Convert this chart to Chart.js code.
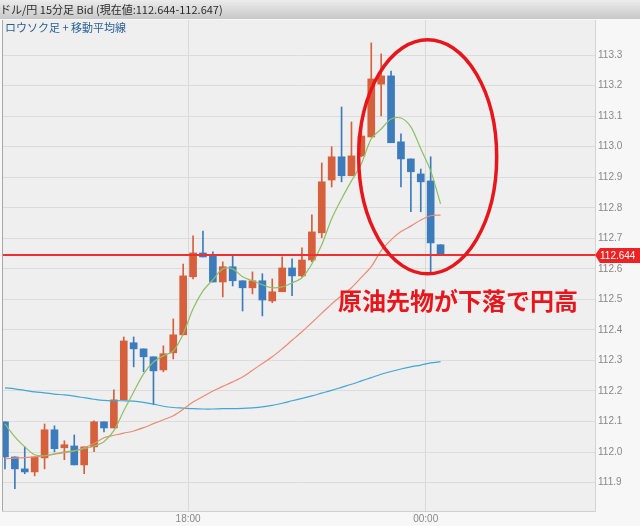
<!DOCTYPE html>
<html>
<head>
<meta charset="utf-8">
<script src="https://cdn.jsdelivr.net/npm/chart.js@4"></script>
<style>
html, body { margin: 0; padding: 0; background: #f6f6f6; }
#wrap { position: relative; width: 640px; height: 526px; }
</style>
</head>
<body>
<div id="wrap"><canvas id="myChart" width="640" height="526"></canvas></div>
<script>
// 15-minute candles, index 0..44
const openP = [112.099, 111.984, 111.945, 111.935, 111.981, 112.073, 112.014, 112.020, 111.958, 112.017,
  112.099, 112.079, 112.171, 112.358, 112.338, 112.312, 112.269, 112.325, 112.384, 112.574,
  112.652, 112.643, 112.557, 112.607, 112.561, 112.538, 112.561, 112.495, 112.525, 112.603,
  112.577, 112.629, 112.718, 112.891, 112.967, 112.905, 112.970, 113.032, 113.205, 113.232,
  113.016, 112.960, 112.911, 112.888, 112.679];
const closeP = [111.984, 111.945, 111.935, 111.984, 112.073, 112.011, 112.024, 111.958, 112.017, 112.099,
  112.079, 112.171, 112.364, 112.338, 112.312, 112.266, 112.322, 112.384, 112.577, 112.652,
  112.639, 112.557, 112.607, 112.561, 112.538, 112.561, 112.498, 112.525, 112.603, 112.577,
  112.629, 112.721, 112.885, 112.967, 112.905, 112.970, 113.035, 113.222, 113.232, 113.013,
  112.960, 112.918, 112.885, 112.685, 112.644];
const highP = [112.099, 111.984, 112.017, 111.984, 112.092, 112.086, 112.037, 112.056, 112.017, 112.102,
  112.099, 112.204, 112.377, 112.377, 112.338, 112.312, 112.348, 112.436, 112.616, 112.708,
  112.724, 112.656, 112.623, 112.646, 112.561, 112.590, 112.584, 112.567, 112.639, 112.633,
  112.669, 112.777, 112.947, 113.000, 113.130, 113.081, 113.068, 113.340, 113.304, 113.248,
  113.042, 112.960, 112.927, 112.967, 112.679];
const lowP = [111.945, 111.880, 111.929, 111.922, 111.945, 112.001, 111.975, 111.958, 111.929, 112.001,
  112.066, 112.079, 112.171, 112.279, 112.263, 112.155, 112.263, 112.305, 112.384, 112.567,
  112.639, 112.557, 112.508, 112.544, 112.462, 112.518, 112.446, 112.489, 112.525, 112.512,
  112.574, 112.623, 112.702, 112.868, 112.885, 112.905, 112.967, 113.032, 113.101, 113.013,
  112.868, 112.787, 112.787, 112.584, 112.644];

// moving averages
const maShort = [112.092, 112.050, 112.017, 111.991, 111.988, 111.994, 112.001, 112.004, 112.011, 112.020,
  112.034, 112.070, 112.135, 112.197, 112.256, 112.295, 112.315, 112.331, 112.387, 112.469,
  112.528, 112.564, 112.600, 112.600, 112.574, 112.561, 112.548, 112.538, 112.541, 112.554,
  112.571, 112.616, 112.679, 112.764, 112.829, 112.888, 112.944, 113.026, 113.058, 113.091,
  113.094, 113.065, 112.993, 112.921, 112.813];
const maMid = [111.978, 111.980, 111.982, 111.984, 111.988, 111.993, 111.998, 112.004, 112.014, 112.028,
  112.047, 112.055, 112.062, 112.069, 112.080, 112.093, 112.106, 112.119, 112.140, 112.164,
  112.182, 112.200, 112.215, 112.230, 112.246, 112.268, 112.290, 112.312, 112.338, 112.366,
  112.394, 112.424, 112.455, 112.485, 112.512, 112.538, 112.572, 112.607, 112.660, 112.695,
  112.722, 112.740, 112.760, 112.774, 112.776];
const maLong = [112.210, 112.207, 112.202, 112.197, 112.194, 112.190, 112.187, 112.183, 112.178, 112.173,
  112.169, 112.168, 112.168, 112.167, 112.163, 112.157, 112.150, 112.146, 112.144, 112.142,
  112.141, 112.141, 112.142, 112.142, 112.143, 112.145, 112.148, 112.153, 112.160, 112.168,
  112.176, 112.184, 112.193, 112.202, 112.212, 112.222, 112.233, 112.244, 112.255, 112.264,
  112.272, 112.279, 112.285, 112.292, 112.296];

const yTicks = [111.9, 112.0, 112.1, 112.2, 112.3, 112.4, 112.5, 112.6, 112.7, 112.8, 112.9, 113.0, 113.1, 113.2, 113.3];
const timeTicks = [18.5, 42.5];
const timeLabels = ["18:00", "00:00"];
const lastPrice = 112.644;
const xMin = -0.3, xMax = 59.6;

const upColor = "#d6603c";
const downColor = "#3c7cbc";

const candleColors = openP.map((o, i) => closeP[i] >= o ? upColor : downColor);
const bodies = openP.map((o, i) => ({ x: i, y: [o, closeP[i]] }));
const wicks = lowP.map((l, i) => ({ x: i, y: [l, highP[i]] }));
const toPts = arr => arr.map((v, i) => ({ x: i, y: v }));

const decor = {
  id: "decor",
  beforeDraw(chart) {
    const ctx = chart.ctx, a = chart.chartArea;
    ctx.save();
    ctx.fillStyle = "#f7f7f7";
    ctx.fillRect(0, 0, chart.width, chart.height);
    ctx.fillStyle = "#efefef";
    ctx.fillRect(a.left, a.top, a.right - a.left, a.bottom - a.top);
    // header band
    const g = ctx.createLinearGradient(0, 0, 0, 19);
    g.addColorStop(0, "#ececec");
    g.addColorStop(1, "#c8c8c8");
    ctx.fillStyle = g;
    ctx.fillRect(0, 0, chart.width, 19);
    ctx.fillStyle = "#2b2b2b";
    ctx.font = "11px 'Noto Sans CJK JP'";
    ctx.textBaseline = "middle";
    ctx.fillText("ドル/円 15分足 Bid (現在値:112.644-112.647)", 0, 10);
    ctx.restore();
  },
  afterDatasetsDraw(chart) {
    // current price line
    const ctx = chart.ctx, a = chart.chartArea;
    const py = Math.round(chart.scales.y.getPixelForValue(lastPrice));
    ctx.save();
    ctx.fillStyle = "#f03030";
    ctx.fillRect(a.left, py - 1, a.right - a.left, 2);
    ctx.restore();
  },
  afterDraw(chart) {
    const ctx = chart.ctx, a = chart.chartArea;
    const xs = chart.scales.x, ys = chart.scales.y;
    ctx.save();
    ctx.fillStyle = "#2a5f95";
    ctx.font = "11px 'Noto Sans CJK JP'";
    ctx.textBaseline = "middle";
    ctx.fillText("ロウソク足 + 移動平均線", 5, 28);

    // left border
    ctx.strokeStyle = "#a8a8a8";
    ctx.lineWidth = 1;
    ctx.beginPath();
    ctx.moveTo(a.left + 0.5, a.top);
    ctx.lineTo(a.left + 0.5, a.bottom);
    ctx.stroke();

    // current price tag
    const py = Math.round(ys.getPixelForValue(lastPrice));
    ctx.fillStyle = "#ee2222";
    ctx.beginPath();
    ctx.moveTo(a.right, py);
    ctx.lineTo(a.right + 5, py - 7);
    ctx.lineTo(chart.width, py - 7);
    ctx.lineTo(chart.width, py + 8);
    ctx.lineTo(a.right + 5, py + 8);
    ctx.closePath();
    ctx.fill();
    ctx.fillStyle = "#ffffff";
    ctx.font = "10px 'Liberation Sans'";
    ctx.fillText(lastPrice.toFixed(3), a.right + 5, py + 1);

    // annotation
    ctx.strokeStyle = "#e8161b";
    ctx.lineWidth = 3.5;
    ctx.beginPath();
    ctx.ellipse(xs.getPixelForValue(42.7), ys.getPixelForValue(112.967), 69, 117, 0, 0, Math.PI * 2);
    ctx.stroke();
    ctx.fillStyle = "#e8161b";
    ctx.font = "bold 24px 'Noto Sans CJK JP'";
    ctx.fillText("原油先物が下落で円高", 338, 301);
    ctx.restore();
  }
};

new Chart(document.getElementById("myChart"), {
  type: "bar",
  data: {
    datasets: [
      { type: "line", data: toPts(maShort), borderColor: "#8cc063", borderWidth: 1.2, pointRadius: 0, tension: 0.3, order: 0 },
      { type: "line", data: toPts(maMid), borderColor: "#ee8a74", borderWidth: 1.2, pointRadius: 0, tension: 0.3, order: 0 },
      { type: "line", data: toPts(maLong), borderColor: "#42a6d6", borderWidth: 1.2, pointRadius: 0, tension: 0.3, order: 0 },
      { data: bodies, backgroundColor: candleColors, barThickness: 7, grouped: false, order: 1 },
      { data: wicks, backgroundColor: candleColors, barThickness: 1, grouped: false, order: 2 }
    ]
  },
  options: {
    responsive: false,
    animation: false,
    devicePixelRatio: 1,
    layout: { padding: { top: 20, left: 2, right: 0, bottom: 0 } },
    plugins: { legend: { display: false }, tooltip: { enabled: false } },
    scales: {
      x: {
        type: "linear",
        min: xMin,
        max: xMax,
        offset: false,
        afterBuildTicks: axis => { axis.ticks = timeTicks.map(v => ({ value: v })); },
        afterFit: axis => { axis.height = 15; },
        ticks: {
          autoSkip: false,
          maxRotation: 0,
          padding: 2,
          color: "#888",
          font: { family: "Liberation Sans", size: 10 },
          callback: (v, idx) => timeLabels[idx]
        },
        grid: { color: "#d9d9d9", drawTicks: false, offset: false },
        border: { color: "#cfcfcf" }
      },
      y: {
        position: "right",
        min: 111.807,
        max: 113.415,
        afterBuildTicks: axis => { axis.ticks = yTicks.map(v => ({ value: v })); },
        afterFit: axis => { axis.width = 45; },
        ticks: {
          padding: 3,
          color: "#888",
          font: { family: "Liberation Sans", size: 10 },
          callback: v => v.toFixed(1)
        },
        grid: { color: "#dcdcdc", drawTicks: false },
        border: { color: "#d4d4d4" }
      }
    }
  },
  plugins: [decor]
});
</script>
</body>
</html>
